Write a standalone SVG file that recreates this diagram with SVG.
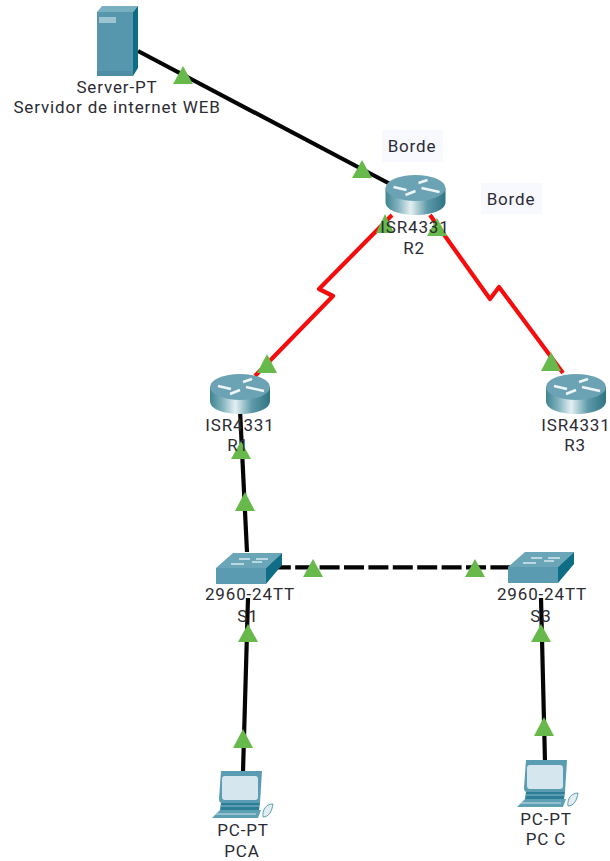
<svg xmlns="http://www.w3.org/2000/svg" xmlns:xlink="http://www.w3.org/1999/xlink" width="610" height="861" viewBox="0 0 610 861">
<style>
.t{font-family:"Roboto","Liberation Sans",sans-serif;font-size:17px;letter-spacing:.85px;fill:#2b2b33;text-anchor:middle}
.blk{fill:none;stroke:#050505;stroke-width:4.2}
.red{fill:none;stroke:#f50d0d;stroke-width:4.2;stroke-linejoin:round}
.tri{fill:#68b94b}
.n{fill:#f8f9ff}
</style>
<defs>
<linearGradient id="cyl" x1="0" x2="1" y1="0" y2="0">
<stop offset="0" stop-color="#3f8492"/><stop offset=".2" stop-color="#7fb0bb"/><stop offset=".42" stop-color="#e4f0f2"/><stop offset=".7" stop-color="#5d9aa8"/><stop offset="1" stop-color="#2f7484"/>
</linearGradient>
<g id="router">
<path d="M-30 0V14C-30 22-17 27 0 27S30 22 30 14V0Z" fill="url(#cyl)"/>
<ellipse cx="0" cy="0" rx="30" ry="13" fill="#6ba3b5"/>
<path d="M-22-1L-9 2M3-5L12-8M6 0L24 4M-10 7L0 3" stroke="#eef5f7" stroke-width="2.5" fill="none"/>
</g>
<g id="switch">
<path d="M0 0L17-15H66L50 0Z" fill="#6ba5b8"/>
<path d="M0 0H50V16H0Z" fill="#5b9bb1"/>
<path d="M50 0L66-15V-3L50 16Z" fill="#0f6d85"/>
<path d="M23-9H34M40-9H52M15-4H28M36-6H46" stroke="#d6e8ee" stroke-width="1.3" fill="none"/>
</g>
<g id="pc">
<path d="M2 0H43L41 32H3Q0 32 0 28Z" fill="#5a9cb1"/>
<rect x="3" y="5" width="36" height="24" rx="3" fill="#d6e6ee"/>
<path d="M2 32H41L40 39H1Z" fill="#2c7e96"/>
<path d="M2 35H40" stroke="#8fbccb" stroke-width="1.2"/>
<path d="M1 39H42L39 47H-7Z" fill="#5d9fb3"/>
<path d="M-3 43H37" stroke="#a9cdd8" stroke-width="1.3"/>
<path d="M44 46C43 39 47 33 54 33C53 40 50 46 44 46Z" fill="#e2edf1" stroke="#5d9fb3"/>
</g>
</defs>
<rect width="610" height="861" fill="#fff"/>
<g id="connectors">
<path class="blk" d="M138 51L392 185"/>
<path class="red" d="M392 215L319 289L333 296L255 376"/>
<path class="red" d="M430 215L490 299L499 287L563 373"/>
<path class="blk" d="M240 410L247 552"/>
<path class="blk" stroke-dasharray="20 4.4" d="M270.8 567.3H510"/>
<path class="blk" d="M248 598L243 772"/>
<path class="blk" d="M541 598L545 762"/>
</g>
<g id="links-tri">
<path class="tri" d="M183 66L173 84H193Z"/>
<path class="tri" d="M362 160L352 178H372Z"/>
<path class="tri" d="M385 214L376 233H394Z"/>
<path class="tri" d="M437 218L427 236H447Z"/>
<path class="tri" d="M267 354L257 373H277Z"/>
<path class="tri" d="M551 352L541 371H561Z"/>
<path class="tri" d="M241 441L231 459H251Z"/>
<path class="tri" d="M245 492L235 511H255Z"/>
<path class="tri" d="M313 559L303 577H323Z"/>
<path class="tri" d="M475 559L465 577H485Z"/>
<path class="tri" d="M248 624L238 642H258Z"/>
<path class="tri" d="M541 624L531 642H551Z"/>
<path class="tri" d="M243 729L233 748H253Z"/>
<path class="tri" d="M544 717L534 736H554Z"/>
</g>
<g id="server">
<path d="M97 12L102 6H138L133 12Z" fill="#79b0c0"/>
<path d="M97 12H133V76H97Z" fill="#5797ae"/>
<path d="M133 12L138 6V68L133 76Z" fill="#0d6d84"/>
<rect x="97" y="71" width="36" height="5" fill="#4e8ea5"/>
<rect x="99" y="17" width="17" height="6" fill="#9cc4d1"/>
<text class="t" x="117" y="93">Server-PT</text>
<text class="t" x="117" y="113">Servidor de internet WEB</text>
</g>
<g id="label-borde-1"><rect class="n" x="382" y="130" width="61" height="32"/><text class="t" x="412" y="152">Borde</text></g>
<g id="label-borde-2"><rect class="n" x="481" y="183" width="61" height="31"/><text class="t" x="511" y="205">Borde</text></g>
<g id="R2"><use xlink:href="#router" href="#router" x="415.5" y="188"/><text class="t" x="415" y="233">ISR4331</text><text class="t" x="414" y="254">R2</text></g>
<g id="R1"><use xlink:href="#router" href="#router" x="240" y="387"/><text class="t" x="240" y="431">ISR4331</text><text class="t" x="238" y="451">R1</text></g>
<g id="R3"><use xlink:href="#router" href="#router" x="576" y="387"/><text class="t" x="576" y="431">ISR4331</text><text class="t" x="575" y="451">R3</text></g>
<g id="S1"><use xlink:href="#switch" href="#switch" x="216" y="568"/><text class="t" x="250" y="600">2960-24TT</text><text class="t" x="248" y="622">S1</text></g>
<g id="S3"><use xlink:href="#switch" href="#switch" x="508" y="567"/><text class="t" x="542" y="600">2960-24TT</text><text class="t" x="541" y="622">S3</text></g>
<g id="PCA"><use xlink:href="#pc" href="#pc" x="219" y="771"/><text class="t" x="243" y="836">PC-PT</text><text class="t" x="242" y="857">PCA</text></g>
<g id="PCC"><use xlink:href="#pc" href="#pc" x="524" y="760"/><text class="t" x="546" y="825">PC-PT</text><text class="t" x="546" y="845">PC C</text></g>
</svg>
